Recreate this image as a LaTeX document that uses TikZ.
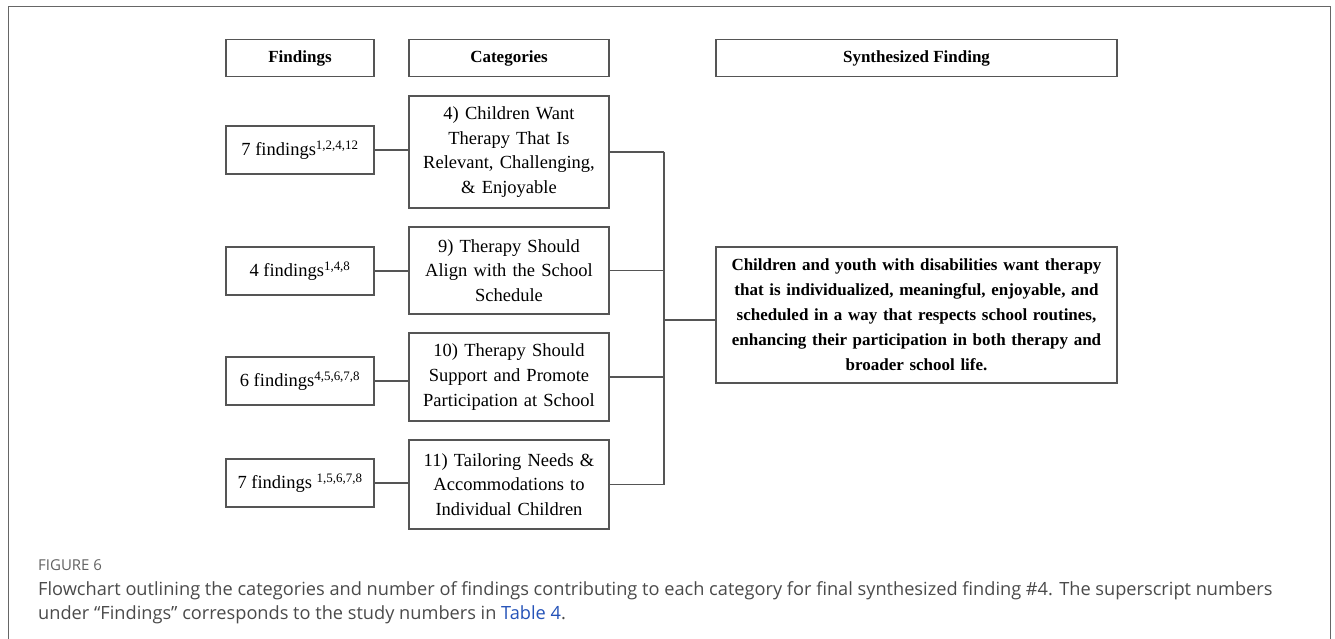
\documentclass[tikz,border=0pt]{standalone}
\usepackage{fontspec}
\setmainfont{Liberation Serif}
\newfontfamily\capfont{Open Sans}
\usetikzlibrary{positioning,calc}
\definecolor{boxgray}{HTML}{555555}
\definecolor{capgray}{HTML}{4A4A4A}
\definecolor{linkblue}{HTML}{2553B8}
\tikzset{
block/.style={
  draw=boxgray,
  line width=1.3pt,
  rectangle,
  align=center,
  inner sep=0pt,
  font=\fontsize{18.5}{24.7}\selectfont
  },
findbox/.style={block, minimum width=148pt, minimum height=48pt},
catbox/.style={block, text width=190pt, minimum width=200pt},
head/.style={block, minimum height=37pt, font=\fontsize{17}{20}\selectfont\bfseries},
line/.style={draw=boxgray, line width=1.3pt}
}

\begin{document}
\begin{tikzpicture}[
    x=1pt, y=-1pt,
    synbox/.style={
      block,
      text width=385pt,
      minimum width=401pt,
      minimum height=136pt,
      font=\fontsize{17}{25}\selectfont\bfseries
      },
    caption/.style={
      anchor=base west,
      inner sep=0pt,
      text=capgray,
      font=\capfont\fontsize{18.2}{23.5}\selectfont
      }
 ]
\useasboundingbox (0,0) rectangle (1335,639);
\draw[black!60, line width=1pt] (8,645) -- (8,7) -- (1330,7) -- (1330,645);

% headers
\node[head, minimum width=148pt] (hfind) at (300,58) {Findings};
\node[head, minimum width=200pt] (hcat) at (509,58) {Categories};
\node[head, minimum width=401pt] (hsyn) at (916.5,58) {Synthesized Finding};

% categories
\node[catbox, minimum height=112pt] (cat4) at (509,152) {4) Children Want\\Therapy That Is\\Relevant, Challenging,\\\& Enjoyable};
\node[catbox, minimum height=87pt] (cat9) at (509,270.5) {9) Therapy Should\\Align with the School\\Schedule};
\node[catbox, minimum height=88pt] (cat10) at (509,377) {10) Therapy Should\\Support and Promote\\Participation at School};
\node[catbox, minimum height=89pt] (cat11) at (509,484.5) {11) Tailoring Needs \&\\Accommodations to\\Individual Children};

% findings
\node[findbox] (f4) at (300,150) {7 findings\textsuperscript{1,2,4,12}};
\node[findbox] (f9) at (300,271) {4 findings\textsuperscript{1,4,8}};
\node[findbox] (f10) at (300,381) {6 findings\textsuperscript{4,5,6,7,8}};
\node[findbox] (f11) at (300,483) {7 findings \textsuperscript{1,5,6,7,8}};

\node[synbox] (syn) at (916.5,315) {Children and youth with disabilities want therapy\\that is individualized, meaningful, enjoyable, and\\scheduled in a way that respects school routines,\\enhancing their participation in both therapy and\\broader school life.};

\coordinate (jn) at (664,320);
\foreach \c in {4,9,10,11}
  \draw[line] (f\c.east) -- (f\c.east -| cat\c.west);
\foreach \c in {4,9,10,11}
  \draw[line] (cat\c.east) -- (cat\c.east -| jn);
\draw[line] (cat4.east -| jn) -- (cat11.east -| jn);
\draw[line] (jn) -- (jn -| syn.west);

% caption
\node[caption, font=\capfont\fontsize{15}{18}\selectfont, text=black!62] (figlab) at (38,570) {FIGURE 6};
\node[caption] (cap1) at (38,595) {Flowchart outlining the categories and number of findings contributing to each category for final synthesized finding \#4. The superscript numbers};
\node[caption] (cap2) at (38,619) {under “Findings” corresponds to the study numbers in \textcolor{linkblue}{Table 4}.};
\end{tikzpicture}
\end{document}
